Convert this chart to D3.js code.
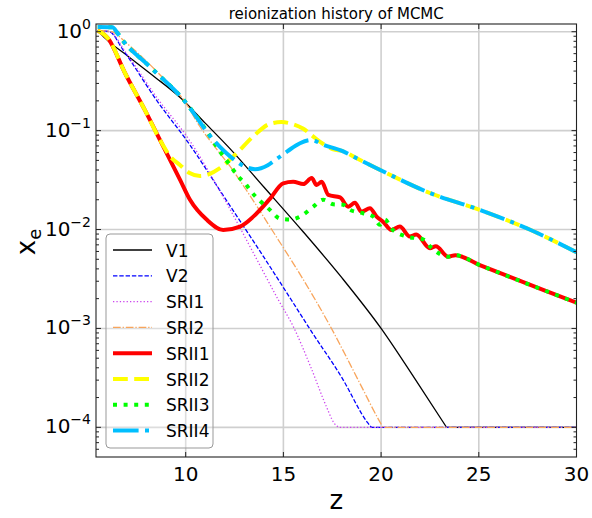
<!DOCTYPE html>
<html><head><meta charset="utf-8">
<script src="https://cdn.jsdelivr.net/npm/d3@7"></script>
<style>body{margin:0;background:#fff} text{font-family:"DejaVu Sans",sans-serif;fill:#000}</style>
</head><body><svg id="c" width="592" height="518"></svg>
<script>
const titleText = "reionization history of MCMC";
const seriesNames = ["V1","V2","SRI1","SRI2","SRII1","SRII2","SRII3","SRII4"];
const xTicks = [10,15,20,25,30];
const yTicks = [1,0.1,0.01,0.001,0.0001];
const yTickExps = ["0","\u22121","\u22122","\u22123","\u22124"];

const zV1  = [5.5,5.9,7.0,8.3,9.8,11.0,12.3,14.0,16.0,18.0,20.0,21.7,23.35,30];
const xeV1 = [1.03,0.851,0.575,0.363,0.209,0.119,0.0646,0.0269,0.00955,0.00324,0.00100,0.000316,0.0001,0.0001];

const zV2  = [5.5,6.1,6.8,8.5,10.2,12.0,14.0,15.4,16.4,18.0,19.3,19.5,30];
const xeV2 = [1.03,1.0,0.653,0.204,0.0724,0.0209,0.00525,0.00195,0.000955,0.000316,0.000112,0.0001,0.0001];

const zSRI1  = [5.5,6.1,7.0,8.5,10.2,12.0,13.5,14.75,15.5,16.4,17.2,17.6,17.85,30];
const xeSRI1 = [1.03,1.0,0.589,0.219,0.0794,0.0200,0.00562,0.00193,0.00105,0.000407,0.000162,0.00011,0.0001,0.0001];

const zSRI2  = [5.5,6.2,7.0,8.0,9.0,9.9,10.7,11.75,12.3,13.1,14.5,16.0,17.4,18.9,19.9,20.1,30];
const xeSRI2 = [1.03,1.0,0.759,0.501,0.316,0.204,0.112,0.0589,0.0427,0.0251,0.00933,0.00316,0.00105,0.000282,0.000117,0.0001,0.0001];

const zSRII1  = [5.5,6.04,6.9,7.92,8.7,9.72,10.22,11.07,11.92,12.78,13.46,14.31,14.99,15.5,16.02,16.45,16.7,16.96,17.3,17.9,18.32,18.66,19.0,19.43,19.77,20.1,20.53,20.96,21.47,21.8,22.5,22.8,23.43,23.8,25.05,28.29,30];
const xeSRII1 = [1.03,0.851,0.380,0.160,0.0794,0.0316,0.0200,0.0126,0.00989,0.0107,0.0135,0.0204,0.0293,0.0304,0.0288,0.0331,0.0282,0.0304,0.0224,0.0211,0.0170,0.0186,0.0151,0.0164,0.0135,0.0120,0.00989,0.0107,0.00851,0.00891,0.00646,0.00676,0.00531,0.00550,0.00437,0.00245,0.00182];

const zSRII2  = [5.5,6.04,6.9,7.92,8.7,9.2,9.72,10.2,10.73,11.2,11.75,12.6,13.45,14.3,14.9,15.5,16.0,16.5,17.0,17.55,18.0,18.75,19.77,22.5,25.05,27.6,30];
const xeSRII2 = [1.03,0.851,0.380,0.160,0.0794,0.0550,0.0447,0.0372,0.0347,0.0363,0.0417,0.0589,0.0871,0.117,0.122,0.116,0.105,0.0881,0.0741,0.0646,0.0624,0.0525,0.0417,0.0234,0.0158,0.0100,0.00589];

const zSRII3  = [5.5,6.25,6.5,6.75,8.2,9.9,11.0,11.75,12.27,12.69,13.03,13.29,14.31,14.82,15.33,15.85,16.53,17.04,17.55,18.06,18.4,19.08,19.6,19.94,20.2,20.53,21.3,22.15,22.6,23.43,23.8,25.05,28.29,30];
const xeSRII3 = [1.114,1.109,0.977,0.832,0.437,0.204,0.104,0.0617,0.0447,0.0343,0.0295,0.0251,0.0158,0.0129,0.0126,0.0135,0.0170,0.0200,0.0180,0.0178,0.0158,0.0146,0.0135,0.0112,0.0126,0.0102,0.00851,0.00794,0.00646,0.00531,0.00550,0.00437,0.00245,0.00182];

const zSRII4  = [5.5,6.25,6.5,6.75,8.2,9.9,11.4,12.3,13.1,13.55,14.2,14.5,15.2,15.85,16.45,17.0,18.0,18.75,19.77,22.5,25.05,27.6,30];
const xeSRII4 = [1.114,1.109,0.977,0.832,0.437,0.204,0.0813,0.0543,0.0427,0.0407,0.0447,0.0490,0.0617,0.0745,0.0804,0.0724,0.0624,0.0525,0.0417,0.0234,0.0158,0.0100,0.00589];

const floorXe = 0.0001;
const seriesZ  = [zV1,zV2,zSRI1,zSRI2,zSRII1,zSRII2,zSRII3,zSRII4];
const seriesXe = [xeV1,xeV2,xeSRI1,xeSRI2,xeSRII1,xeSRII2,xeSRII3,xeSRII4];
const colors = ["#000000","#0000ff","#cc44ee","#f8a55c","#ff0000","#ffff00","#00ff00","#00bfff"];
const widths = [1.3,1.3,1.3,1.3,4,4,4,4];
const dashes = [null,"4.4,1.9","1.3,2.1","7.7,1.9,1.3,1.9",null,"14.8,6.4","4,6.6","25.6,6.4,4,6.4"];

const L=96, R=576.5, T=24, B=457;
const svg = d3.select("#c");
const x = d3.scaleLinear().domain([5.41,30]).range([L,R]);
const y = d3.scaleLog().domain([Math.pow(10,-4.3),Math.pow(10,0.078)]).range([B,T]);

// grid
const g = svg.append("g");
xTicks.filter(t=>t<30).forEach(t=>{
  g.append("line").attr("x1",x(t)).attr("x2",x(t)).attr("y1",T).attr("y2",B).attr("stroke","#cfcfcf").attr("stroke-width",1.6);
});
yTicks.forEach(t=>{
  g.append("line").attr("x1",L).attr("x2",R).attr("y1",y(t)).attr("y2",y(t)).attr("stroke","#cfcfcf").attr("stroke-width",1.6);
});

// clip
svg.append("clipPath").attr("id","clip").append("rect").attr("x",L).attr("y",T).attr("width",R-L).attr("height",B-T);

const lineLin = d3.line().x(d=>x(d[0])).y(d=>y(d[1]));
const lineSmooth = d3.line().x(d=>x(d[0])).y(d=>y(d[1])).curve(d3.curveMonotoneX);
const lg = svg.append("g").attr("clip-path","url(#clip)");
seriesNames.forEach((n,i)=>{
  const pts = seriesZ[i].map((z,j)=>[z,seriesXe[i][j]]);
  const k = pts.findIndex(p=>p[1]<=floorXe);
  let d;
  if(k>0){
    d = lineSmooth(pts.slice(0,k+1)) + lineLin(pts.slice(k)).replace(/^M/,"L");
  } else d = lineSmooth(pts);
  const p = lg.append("path").attr("d",d).attr("fill","none")
    .attr("stroke",colors[i]).attr("stroke-width",widths[i]).attr("stroke-linejoin","round");
  if(dashes[i]) p.attr("stroke-dasharray",dashes[i]);
});

// spines
svg.append("rect").attr("x",L).attr("y",T).attr("width",R-L).attr("height",B-T)
  .attr("fill","none").attr("stroke","#222").attr("stroke-width",1.1);

// x ticks
const ax = svg.append("g");
xTicks.forEach(t=>{
  ax.append("line").attr("x1",x(t)).attr("x2",x(t)).attr("y1",B).attr("y2",B-5).attr("stroke","#222");
  ax.append("line").attr("x1",x(t)).attr("x2",x(t)).attr("y1",T).attr("y2",T+5).attr("stroke","#222");
  ax.append("text").attr("x",x(t)).attr("y",481).attr("text-anchor","middle").attr("font-size",20).text(t);
});
// y ticks
const yMinor=[];
for(let e=-5;e<=0;e++){for(let m=2;m<=9;m++){const v=m*Math.pow(10,e); if(v>y.domain()[0]&&v<y.domain()[1]) yMinor.push(v);}}
yMinor.forEach(v=>{
  ax.append("line").attr("x1",L).attr("x2",L+3).attr("y1",y(v)).attr("y2",y(v)).attr("stroke","#222");
  ax.append("line").attr("x1",R).attr("x2",R-3).attr("y1",y(v)).attr("y2",y(v)).attr("stroke","#222");
});
yTicks.forEach((t,i)=>{
  ax.append("line").attr("x1",L).attr("x2",L+5).attr("y1",y(t)).attr("y2",y(t)).attr("stroke","#222");
  ax.append("line").attr("x1",R).attr("x2",R-5).attr("y1",y(t)).attr("y2",y(t)).attr("stroke","#222");
  const tx = ax.append("text").attr("x",91).attr("y",y(t)+6).attr("text-anchor","end").attr("font-size",20);
  tx.append("tspan").text("10");
  tx.append("tspan").attr("dy",-9).attr("font-size",14).text(yTickExps[i]);
});

// title and labels
svg.append("text").attr("x",(L+R)/2).attr("y",19).attr("text-anchor","middle").attr("font-size",15).text(titleText);
svg.append("text").attr("x",(L+R)/2).attr("y",509).attr("text-anchor","middle").attr("font-size",26).text("z");
const yl = svg.append("text").attr("transform","translate(35,242) rotate(-90)").attr("text-anchor","middle").attr("font-size",26);
yl.append("tspan").text("x");
yl.append("tspan").attr("dy",6).attr("font-size",18).text("e");

// legend
const leg = svg.append("g");
leg.append("rect").attr("x",106).attr("y",234).attr("width",107).attr("height",214).attr("rx",4)
  .attr("fill","#fff").attr("fill-opacity",0.3).attr("stroke","#999").attr("stroke-width",1);
seriesNames.forEach((n,i)=>{
  const cy = 250 + i*25.8;
  const l = leg.append("line").attr("x1",113).attr("x2",152).attr("y1",cy).attr("y2",cy)
    .attr("stroke",colors[i]).attr("stroke-width",widths[i]);
  if(dashes[i]) l.attr("stroke-dasharray",dashes[i]);
  leg.append("text").attr("x",166).attr("y",cy+6.5).attr("font-size",17).text(n);
});
</script></body></html>
